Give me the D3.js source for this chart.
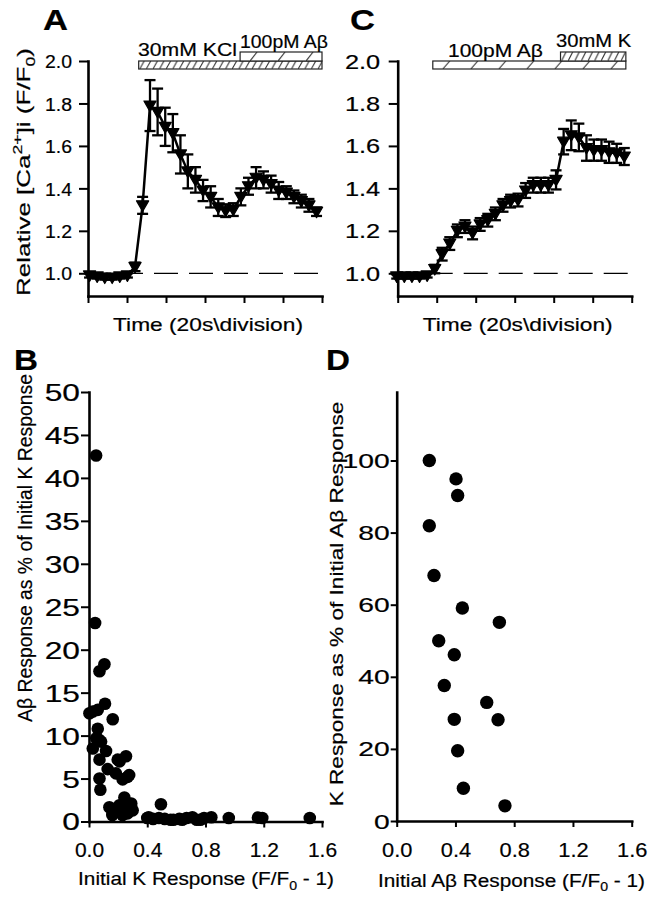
<!DOCTYPE html>
<html><head><meta charset="utf-8">
<script src="https://cdn.jsdelivr.net/npm/d3@7"></script>
<style>
html,body{margin:0;padding:0;background:#fff;}
svg{display:block;font-family:"Liberation Sans",Arial,sans-serif;}
svg text{stroke:#000;stroke-width:0.2px;}
</style></head><body>
<svg id="chart" width="654" height="899"></svg>
<script>
// ---------------- DATA ----------------
// Panel A: KCl then Abeta (time in s, relative F/F0, SEM)
const timeA = [0.8,4.7,8.6,12.4,16.3,20.2,24.1,28.0,31.8,35.7,39.6,43.5,47.4,51.2,55.1,59.0,62.9,66.8,70.6,74.5,78.4,82.3,86.2,90.0,93.9,97.8,101.7,105.6,109.4,113.3,117.2];
const ratioA = [0.99,0.985,0.98,0.98,0.985,0.99,1.03,1.32,1.79,1.76,1.69,1.66,1.56,1.48,1.44,1.39,1.36,1.31,1.295,1.30,1.36,1.41,1.45,1.44,1.42,1.39,1.38,1.36,1.34,1.32,1.29];
const semA = [0.01,0.01,0.01,0.01,0.01,0.01,0.02,0.04,0.12,0.11,0.09,0.09,0.09,0.08,0.06,0.05,0.05,0.04,0.03,0.03,0.04,0.04,0.05,0.04,0.04,0.04,0.03,0.03,0.03,0.03,0.02];
// Panel C: Abeta then K
const timeC = [-0.5,3.4,7.3,11.2,15.1,19.0,22.8,26.7,30.6,34.5,38.4,42.3,46.2,50.1,54.0,57.9,61.7,65.6,69.5,73.4,77.3,81.2,85.1,89.0,92.9,96.8,100.6,104.5,108.4,112.3,116.2];
const ratioC = [0.985,0.985,0.985,0.985,0.99,1.02,1.09,1.14,1.20,1.22,1.19,1.23,1.25,1.28,1.32,1.34,1.345,1.39,1.415,1.415,1.415,1.44,1.62,1.65,1.64,1.59,1.58,1.58,1.57,1.565,1.55];
const semC = [0.01,0.01,0.01,0.01,0.01,0.02,0.03,0.03,0.03,0.03,0.03,0.03,0.03,0.03,0.03,0.03,0.03,0.035,0.035,0.035,0.035,0.045,0.06,0.07,0.065,0.06,0.05,0.05,0.05,0.045,0.04];
// Panel B: initial K response vs Abeta response (% of K)
const kInitialB = [0.049,0.042,0.106,0.072,0.11,0.026,0.06,0.003,0.163,0.06,0.05,0.083,0.026,0.117,0.07,0.072,0.197,0.254,0.21,0.128,0.185,0.276,0.072,0.231,0.265,0.078,0.243,0.14,0.209,0.289,0.185,0.265,0.22,0.29,0.30,0.23,0.16,0.494,0.40,0.41,0.44,0.48,0.52,0.56,0.58,0.62,0.64,0.67,0.71,0.74,0.765,0.79,0.84,0.96,1.16,1.19,1.516];
const abPctB   = [42.6,23.1,18.3,17.5,13.7,12.8,13.0,12.6,11.9,10.8,9.7,9.3,8.5,8.2,9.5,7.2,7.2,7.6,7.0,6.1,5.6,5.4,5.0,4.9,5.2,3.7,2.8,1.65,1.9,1.7,1.1,0.95,1.5,2.1,1.3,0.75,0.75,2.0,0.4,0.5,0.3,0.4,0.3,0.2,0.2,0.3,0.2,0.4,0.5,0.2,0.2,0.4,0.5,0.4,0.45,0.4,0.4];
// Panel D: initial Abeta response vs K response (% of Abeta)
const abInitialD = [0.222,0.404,0.415,0.222,0.254,0.447,0.699,0.286,0.392,0.324,0.613,0.392,0.690,0.415,0.454,0.737];
const kPctD      = [100,94.9,90.3,81.9,68.1,59.1,55.1,50,46.1,37.6,32.9,28.2,28.1,19.5,9.1,4.2];
// ticks
const timeTicks = [0,20,40,60,80,100,120];
const ratioTicks = [1.0,1.2,1.4,1.6,1.8,2.0];
const respTicks = [0,0.4,0.8,1.2,1.6];
const pctTicksB = [0,5,10,15,20,25,30,35,40,45,50];
const pctTicksD = [0,20,40,60,80,100];
// application bars (time in s)
const barsA = [{label:"30mM KCl", start:26, end:120, level:0, hatch:"dense"},
               {label:"100pM A\u03b2", start:78, end:120, level:1, hatch:"sparse"}];
const barsC = [{label:"100pM A\u03b2", start:18, end:117, level:0, hatch:"sparse"},
               {label:"30mM K", start:83.5, end:117, level:1, hatch:"dense"}];

// ---------------- DRAWING ----------------
const svg = d3.select("#chart");
const defs = svg.append("defs");

function styleAxis(a, dw, tw) {
  a.attr("font-family", null).attr("font-size", null);
  a.select("path.domain").attr("stroke", "#000").attr("stroke-width", dw).attr("stroke-linecap", "square");
  a.selectAll(".tick line").attr("stroke", "#000").attr("stroke-width", tw);
}

function label(parent, o) {
  const t = parent.append("text").attr("font-size", o.size).attr("font-weight", o.weight || 400)
    .attr("text-anchor", o.anchor || "middle").attr("fill", "#000");
  o.parts.forEach(p => {
    const s = t.append("tspan").text(p.t);
    if (p.small) s.attr("font-size", o.size * 0.68);
    if (p.dy) s.attr("dy", p.dy * o.size);
  });
  const w = t.node().getBBox().width;
  const sx = o.width ? o.width / w : 1;
  t.attr("transform", `translate(${o.x},${o.y}) rotate(${o.rotate || 0}) scale(${sx},1)`);
  return t;
}

let patId = 0;
function hatchFill(x0, y0, w, h, kind) {
  const id = "hatch" + (patId++);
  const step = kind === "dense" ? 6.6 : 28;
  const dx = kind === "dense" ? 4.5 : 7;
  const p = defs.append("pattern").attr("id", id).attr("patternUnits", "userSpaceOnUse")
    .attr("x", x0 + (kind === "dense" ? 1 : 10)).attr("y", y0).attr("width", step).attr("height", h);
  p.append("path").attr("d", `M0,${h} L${dx},0`).attr("stroke", "#333").attr("stroke-width", 1.1).attr("fill", "none");
  return `url(#${id})`;
}

function timePanel(o) {
  const g = svg.append("g");
  const x = d3.scaleLinear().domain([0, 120]).range([o.left, o.right]);
  const y = d3.scaleLinear().domain([0.893, 2.0]).range([296, 61]);

  const ya = g.append("g").attr("transform", `translate(${o.left},0)`)
    .call(d3.axisLeft(y).tickValues(ratioTicks).tickSize(9).tickSizeOuter(0).tickPadding(0).tickFormat(d3.format(".1f")));
  styleAxis(ya, 2.6, 2);
  ya.selectAll(".tick text").attr("font-size", o.tickFont).attr("x", 0).attr("dy", "0.36em").attr("fill", "#000")
    .attr("transform", `translate(${-o.labelGap},0) scale(${o.tickStretch},1)`);

  const xa = g.append("g").attr("transform", `translate(0,296)`)
    .call(d3.axisBottom(x).tickValues(timeTicks).tickSize(7).tickSizeOuter(0).tickFormat(""));
  styleAxis(xa, 2.6, 2);

  g.append("line").attr("x1", x(0)).attr("x2", x(120)).attr("y1", y(1)).attr("y2", y(1))
    .attr("stroke", "#000").attr("stroke-width", 1.2).attr("stroke-dasharray", "24,11").attr("stroke-dashoffset", 4);

  const pts = o.times.map((t, i) => ({t, v: o.vals[i], e: o.sems[i]}));
  const eb = g.append("g").attr("stroke", "#000").attr("stroke-width", 2.3);
  pts.forEach(d => {
    eb.append("line").attr("x1", x(d.t)).attr("x2", x(d.t)).attr("y1", y(d.v - d.e)).attr("y2", y(d.v + d.e));
    eb.append("line").attr("x1", x(d.t) - 5.5).attr("x2", x(d.t) + 5.5).attr("y1", y(d.v + d.e)).attr("y2", y(d.v + d.e));
    eb.append("line").attr("x1", x(d.t) - 5.5).attr("x2", x(d.t) + 5.5).attr("y1", y(d.v - d.e)).attr("y2", y(d.v - d.e));
  });
  g.append("path").datum(pts).attr("fill", "none").attr("stroke", "#000").attr("stroke-width", 2.5)
    .attr("d", d3.line().x(d => x(d.t)).y(d => y(d.v)));
  const tri = d3.symbol().type(d3.symbolTriangle).size(64);
  g.selectAll("path.mk").data(pts).join("path").attr("class", "mk").attr("fill", "#000")
    .attr("stroke", "#000").attr("stroke-width", 1.2).attr("stroke-linejoin", "round")
    .attr("d", tri).attr("transform", d => `translate(${x(d.t)},${y(d.v) - 1}) rotate(180)`);

  // application bars
  const levelY = [61, 52], levelH = [8, 9];
  o.bars.forEach(b => {
    const x0 = x(b.start), x1 = x(b.end), y0 = levelY[b.level], h = levelH[b.level];
    g.append("rect").attr("x", x0).attr("y", y0).attr("width", x1 - x0).attr("height", h).attr("fill", "#fff");
    g.append("rect").attr("x", x0).attr("y", y0).attr("width", x1 - x0).attr("height", h)
      .attr("fill", hatchFill(x0, y0, x1 - x0, h, b.hatch)).attr("stroke", "#222").attr("stroke-width", 1.2);
  });
  o.barLabels.forEach(l => label(g, {x: l.x, y: l.y, anchor: "start", size: 18.5, width: l.w, parts: [{t: l.text}]}));

  label(g, {x: (o.left + o.right) / 2 + 3, y: 331, size: 18, width: 190, parts: [{t: "Time (20s\\division)"}]});
  label(g, {x: o.letterX, y: 30, anchor: "start", size: 30, weight: 700, width: 25, parts: [{t: o.letter}]});
}

function scatterPanel(o) {
  const g = svg.append("g");
  const x = d3.scaleLinear().domain([0, 1.6]).range([o.left, o.right]);
  const y = d3.scaleLinear().domain([0, o.ymax]).range([o.bottom, o.top]);

  const ya = g.append("g").attr("transform", `translate(${o.left},0)`)
    .call(d3.axisLeft(y).tickValues(o.yTicks).tickSize(o.yTickLen).tickSizeOuter(0).tickPadding(0).tickFormat(d3.format("d")));
  styleAxis(ya, 2.6, 2);
  ya.selectAll(".tick text").attr("font-size", o.yFont).attr("x", 0).attr("dy", "0.36em").attr("fill", "#000")
    .attr("transform", `translate(${-o.yLabelGap},0) scale(${o.yStretch},1)`);

  const xa = g.append("g").attr("transform", `translate(0,${o.bottom})`)
    .call(d3.axisBottom(x).tickValues(respTicks).tickSize(6).tickSizeOuter(0).tickPadding(0).tickFormat(d3.format(".1f")));
  styleAxis(xa, 2.6, 2);
  xa.selectAll(".tick text").attr("font-size", o.xFont).attr("y", 0).attr("dy", 0).attr("fill", "#000")
    .attr("transform", `translate(0,${o.xLabelBase - o.bottom}) scale(${o.xStretch},1)`);

  g.selectAll("circle").data(o.xs.map((v, i) => [v, o.ys[i]])).join("circle")
    .attr("cx", d => x(d[0])).attr("cy", d => y(d[1])).attr("r", o.r).attr("fill", "#000");

  label(g, {x: o.ylab.x, y: o.ylab.y, rotate: -90, size: o.ylab.size, width: o.ylab.w, parts: o.ylab.parts});
  label(g, {x: o.xlab.x, y: o.xlab.y, size: o.xlab.size, width: o.xlab.w, parts: o.xlab.parts});
  label(g, {x: o.letterX, y: 370, anchor: "start", size: 30, weight: 700, width: 24, parts: [{t: o.letter}]});
}

timePanel({left: 88, right: 322, times: timeA, vals: ratioA, sems: semA, bars: barsA,
  tickFont: 18.5, tickStretch: 1.05, labelGap: 16, letter: "A", letterX: 43,
  barLabels: [{text: "30mM KCl", x: 138, y: 56, w: 99}, {text: "100pM A\u03b2", x: 240, y: 48, w: 88}]});
timePanel({left: 397.7, right: 631.7, times: timeC, vals: ratioC, sems: semC, bars: barsC,
  tickFont: 19.5, tickStretch: 1.3, labelGap: 17.5, letter: "C", letterX: 350,
  barLabels: [{text: "100pM A\u03b2", x: 448, y: 57, w: 95}, {text: "30mM K", x: 556, y: 47, w: 76}]});

// Y-axis label of A
label(svg, {x: 30, y: 172, rotate: -90, size: 19, width: 248,
  parts: [{t: "Relative [Ca"}, {t: "2+", small: true, dy: -0.42}, {t: "]i (F/F", dy: 0.42}, {t: "0", small: true, dy: 0.25}, {t: ")", dy: -0.25}]});

scatterPanel({left: 89, right: 322, top: 392, bottom: 821.5, ymax: 50, yTicks: pctTicksB, yTickLen: 8,
  yFont: 23.5, yStretch: 1.35, yLabelGap: 9, xFont: 21, xStretch: 1.0, xLabelBase: 857,
  xs: kInitialB, ys: abPctB, r: 6.3, letter: "B", letterX: 14,
  ylab: {x: 32, y: 548, size: 20, w: 348, parts: [{t: "A\u03b2 Response as % of Initial K Response"}]},
  xlab: {x: 206, y: 885, size: 19, w: 256, parts: [{t: "Initial K Response (F/F"}, {t: "0", small: true, dy: 0.25}, {t: " - 1)", dy: -0.25}]}});

scatterPanel({left: 396.7, right: 631.7, top: 392, bottom: 821, ymax: 119, yTicks: pctTicksD, yTickLen: 6,
  yFont: 19.5, yStretch: 1.45, yLabelGap: 7, xFont: 19.5, xStretch: 1.12, xLabelBase: 856.7,
  xs: abInitialD, ys: kPctD, r: 6.7, letter: "D", letterX: 326,
  ylab: {x: 343, y: 604, size: 19, w: 405, parts: [{t: "K Response as % of Initial A\u03b2 Response"}]},
  xlab: {x: 511.5, y: 886.7, size: 19, w: 267, parts: [{t: "Initial A\u03b2 Response (F/F"}, {t: "0", small: true, dy: 0.25}, {t: " - 1)", dy: -0.25}]}});
</script>
</body></html>
